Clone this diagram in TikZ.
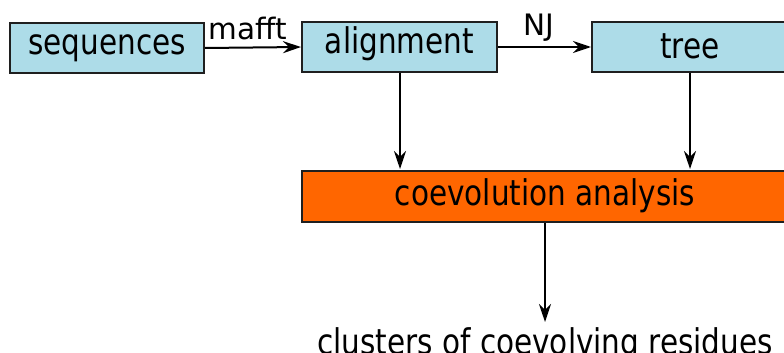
\documentclass[tikz,border=0pt]{standalone}
\usepackage{fontspec}
\usepackage{graphicx}
\setmainfont{DejaVu Sans}
\usetikzlibrary{arrows.meta}
\definecolor{boxblue}{HTML}{ADDCE8}
\definecolor{boxorange}{HTML}{FF6600}
\newcommand\talltext[1]{\scalebox{1}[1.2]{#1}}
\begin{document}
\begin{tikzpicture}[x=1pt,y=1pt,
  every node/.style={font=\fontsize{29.5}{35}\selectfont, inner sep=0pt},
  stepbox/.style={draw=black!88, line width=2pt, minimum height=50pt, text depth=0pt},
  conn/.style={line width=2pt, -{Stealth[length=18pt,width=12pt,inset=6pt]}}]
\useasboundingbox (0,0) rectangle (784,-353);
\node[stepbox, fill=boxblue, minimum width=194pt, text height=14pt] (seq) at (107,-48) {\talltext{sequences}};
\node[stepbox, fill=boxblue, minimum width=195pt, text height=14pt] (ali) at (399.5,-47) {\talltext{alignment}};
\node[stepbox, fill=boxblue, minimum width=196pt, text height=24pt] (tree) at (690,-47) {\talltext{tree}};
\node[stepbox, fill=boxorange, minimum width=486pt, minimum height=51pt, text height=17pt] (coe) at (545,-196.5) {\talltext{coevolution analysis}};
\node[anchor=base] (clu) at (545,-354) {\talltext{clusters of coevolving residues}};
\draw[conn] (seq.east) -- node[anchor=base, xshift=-5pt, yshift=8pt] (mafft) {mafft} (ali.west);
\draw[conn] (ali.east) -- node[anchor=base, xshift=-5.5pt, yshift=11pt] (nj) {NJ} (tree.west);
\coordinate (alib) at (400,-72);
\draw[conn] (ali.south -| alib) -- ([yshift=1pt]coe.north -| alib);
\draw[conn] (tree.south) -- ([yshift=1pt]coe.north -| tree.south);
\coordinate (cluend) at (545,-322);
\draw[conn] (coe.south) -- (cluend);
\end{tikzpicture}
\end{document}
